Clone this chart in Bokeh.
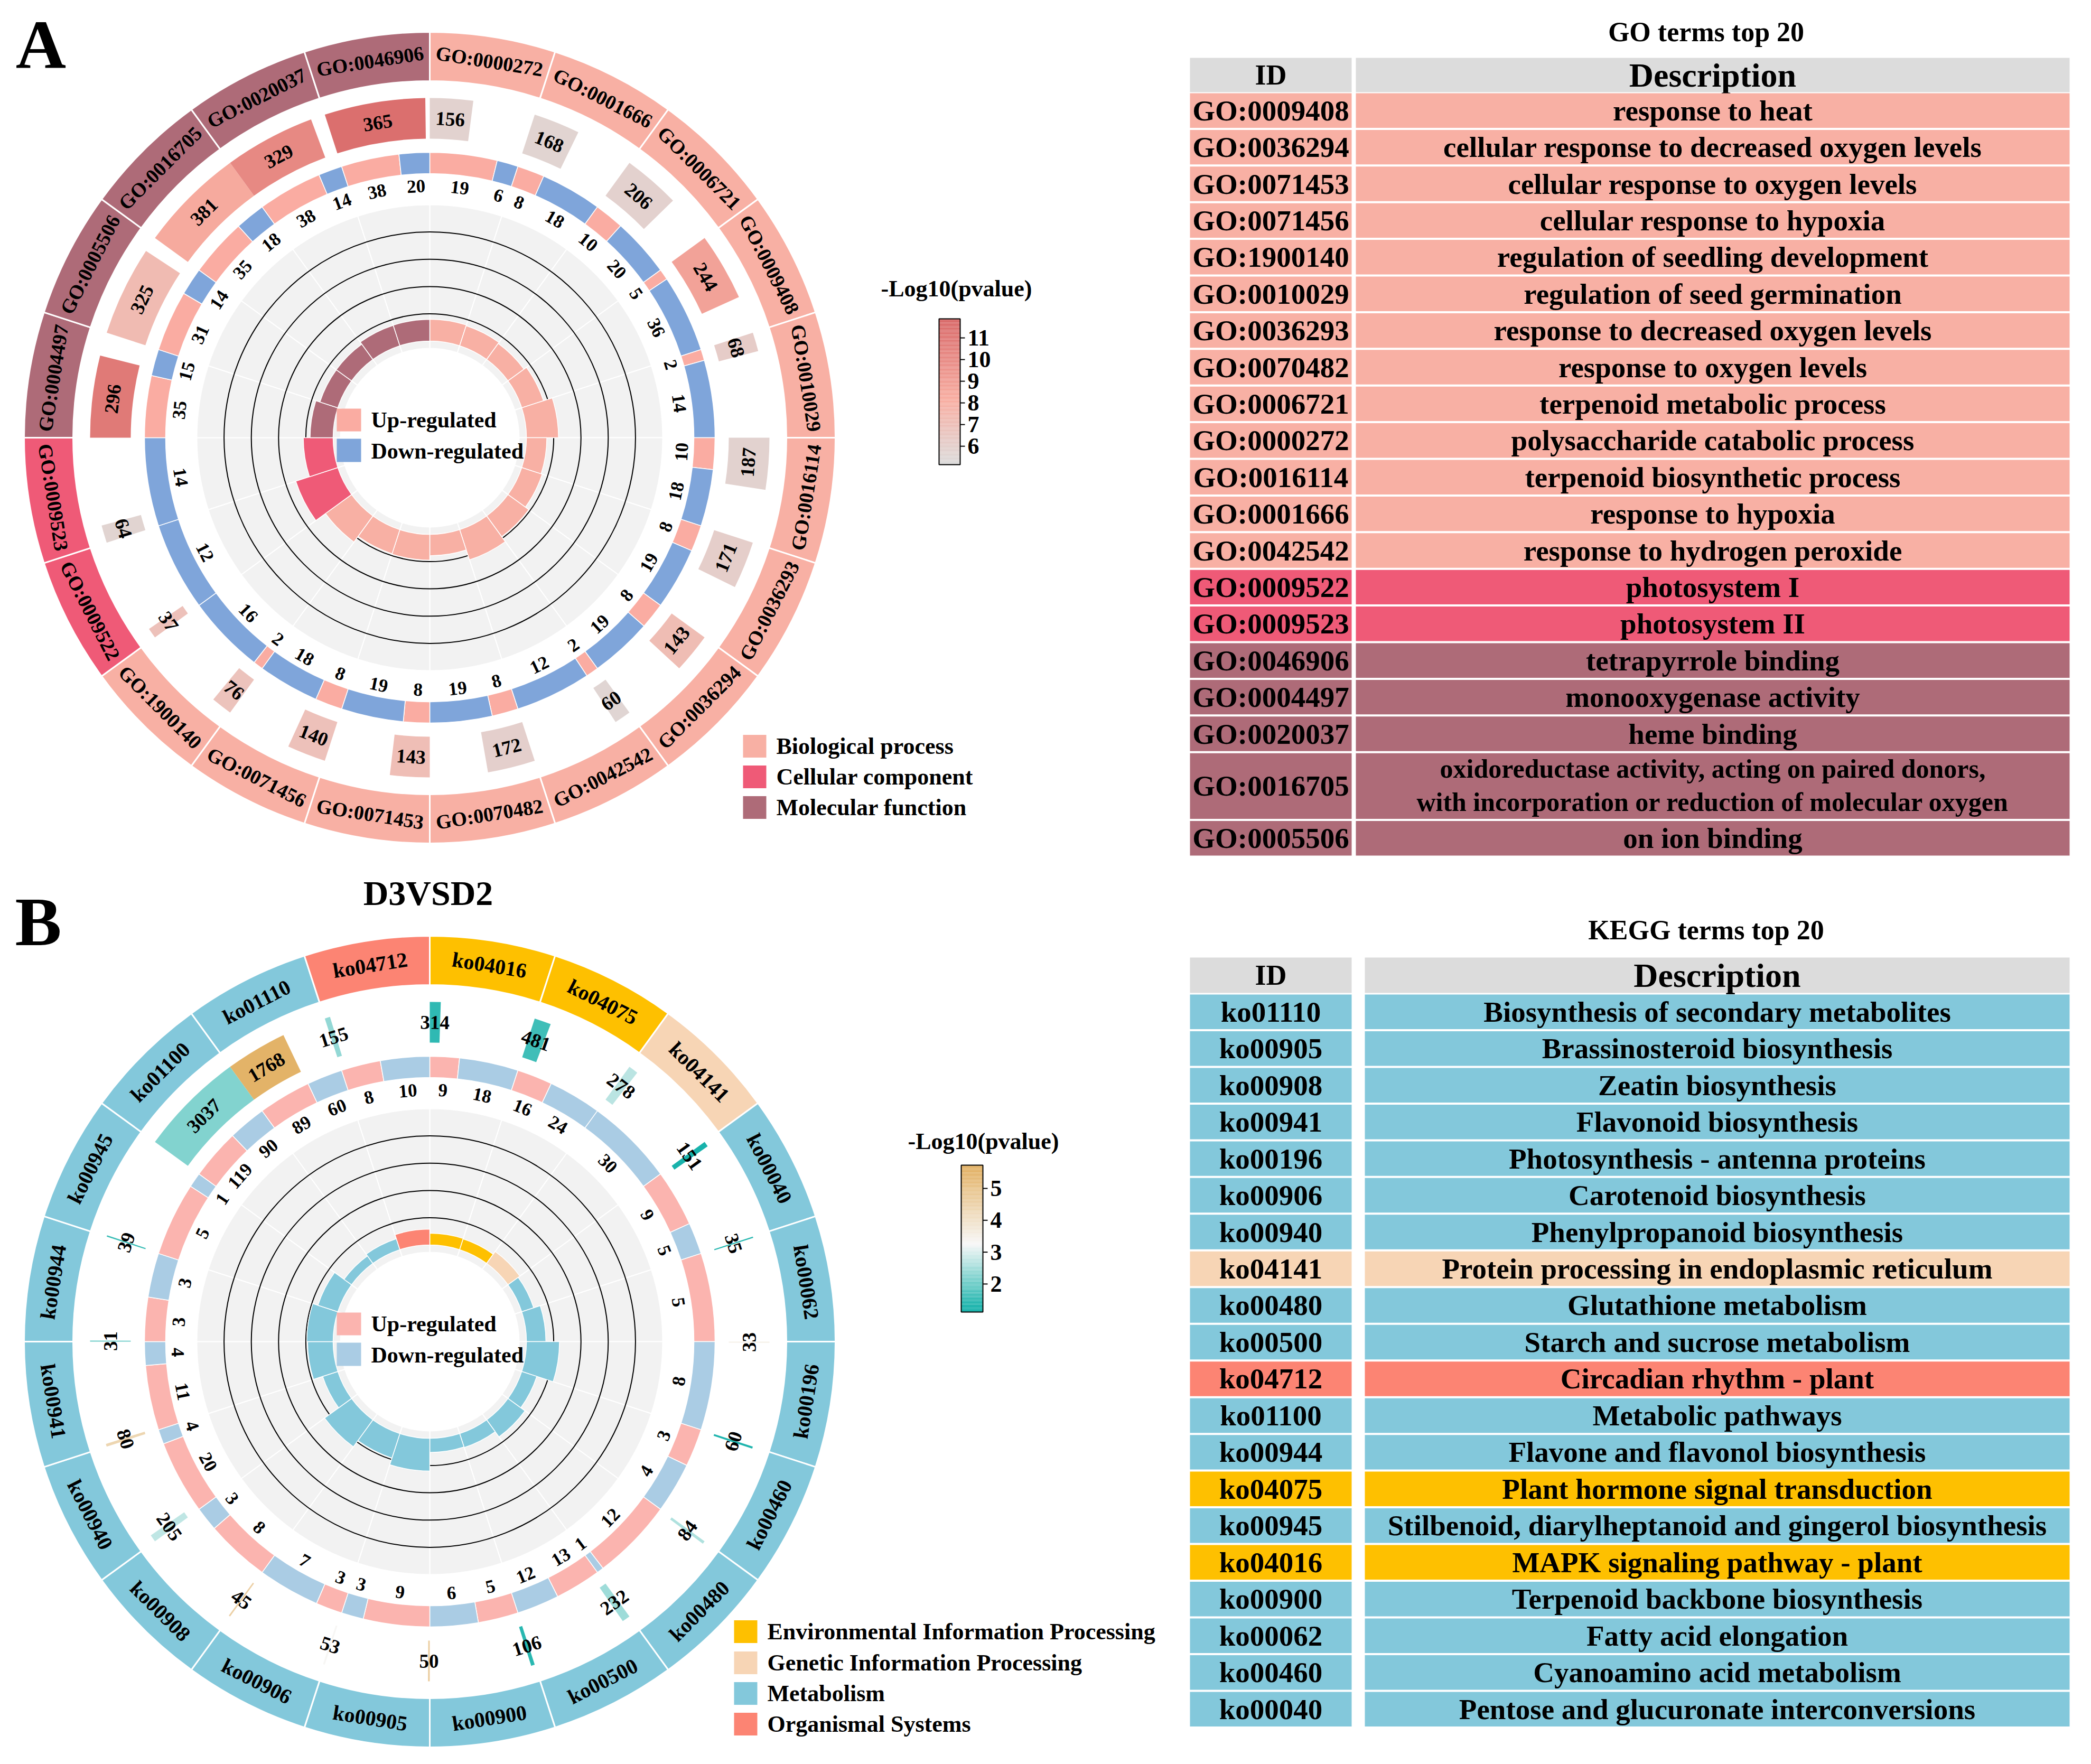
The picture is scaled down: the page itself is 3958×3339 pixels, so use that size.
import numpy as np
from bokeh.plotting import figure
from bokeh.models import Range1d
from bokeh.embed import file_html
from bokeh.resources import INLINE
from bokeh.core.properties import value

# ================= DATA =================
# ---- Panel A: GO circle (clockwise from 12 o'clock) ----
go_ids = ["GO:0000272", "GO:0001666", "GO:0006721", "GO:0009408", "GO:0010029",
          "GO:0016114", "GO:0036293", "GO:0036294", "GO:0042542", "GO:0070482",
          "GO:0071453", "GO:0071456", "GO:1900140", "GO:0009522", "GO:0009523",
          "GO:0004497", "GO:0005506", "GO:0016705", "GO:0020037", "GO:0046906"]
go_ontology = ["BP"] * 13 + ["CC"] * 2 + ["MF"] * 5
go_bg_num = [156, 168, 206, 244, 68, 187, 171, 143, 60, 172, 143, 140, 76, 37, 64, 296, 325, 381, 329, 365]
go_up = [19, 8, 10, 5, 2, 10, 8, 8, 2, 8, 8, 8, 2, 0, 0, 35, 31, 35, 38, 38]
go_down = [6, 18, 20, 36, 14, 18, 19, 19, 12, 19, 19, 18, 16, 12, 14, 15, 14, 18, 14, 20]
go_logp = [5.8, 5.7, 5.9, 8.8, 6.2, 5.8, 6.1, 7.2, 5.6, 6.0, 7.1, 6.9, 6.8, 6.9, 5.7, 11.0, 7.3, 8.4, 10.2, 11.6]
go_cb_ticks = [6, 7, 8, 9, 10, 11]
go_cb_range = [5.15, 11.88]
go_cat_names = ["Biological process", "Cellular component", "Molecular function"]
go_cat_keys = ["BP", "CC", "MF"]

# ---- GO table ----
go_tab_ids = ["GO:0009408", "GO:0036294", "GO:0071453", "GO:0071456", "GO:1900140",
              "GO:0010029", "GO:0036293", "GO:0070482", "GO:0006721", "GO:0000272",
              "GO:0016114", "GO:0001666", "GO:0042542", "GO:0009522", "GO:0009523",
              "GO:0046906", "GO:0004497", "GO:0020037", "GO:0016705", "GO:0005506"]
go_tab_desc = ["response to heat", "cellular response to decreased oxygen levels",
               "cellular response to oxygen levels", "cellular response to hypoxia",
               "regulation of seedling development", "regulation of seed germination",
               "response to decreased oxygen levels", "response to oxygen levels",
               "terpenoid metabolic process", "polysaccharide catabolic process",
               "terpenoid biosynthetic process", "response to hypoxia",
               "response to hydrogen peroxide", "photosystem I", "photosystem II",
               "tetrapyrrole binding", "monooxygenase activity", "heme binding",
               "oxidoreductase activity, acting on paired donors,\nwith incorporation or reduction of molecular oxygen",
               "on ion binding"]
go_tab_cat = ["BP"] * 13 + ["CC"] * 2 + ["MF"] * 5

# ---- Panel B: KEGG circle (clockwise from 12 o'clock) ----
kegg_ids = ["ko04016", "ko04075", "ko04141", "ko00040", "ko00062", "ko00196", "ko00460",
            "ko00480", "ko00500", "ko00900", "ko00905", "ko00906", "ko00908", "ko00940",
            "ko00941", "ko00944", "ko00945", "ko01100", "ko01110", "ko04712"]
kegg_class = ["EIP", "EIP", "GIP"] + ["MET"] * 16 + ["OS"]
kegg_bg_num = [314, 481, 278, 151, 35, 33, 60, 84, 232, 106, 50, 53, 45, 205, 80, 31, 39, 3037, 1768, 155]
kegg_up = [9, 16, 0, 9, 5, 0, 3, 12, 13, 5, 9, 3, 8, 20, 11, 3, 5, 119, 89, 8]
kegg_down = [18, 24, 30, 5, 0, 8, 4, 1, 12, 6, 3, 7, 3, 4, 4, 3, 1, 90, 60, 10]
kegg_logp = [1.45, 1.6, 2.7, 1.25, 1.35, 3.5, 1.3, 2.6, 2.45, 1.4, 4.7, 3.3, 4.6, 2.75,
             4.4, 2.0, 1.55, 2.2, 5.6, 2.35]
kegg_cb_ticks = [2, 3, 4, 5]
kegg_cb_range = [1.12, 5.73]
kegg_cat_names = ["Environmental Information Processing", "Genetic Information Processing",
                  "Metabolism", "Organismal Systems"]
kegg_cat_keys = ["EIP", "GIP", "MET", "OS"]

# ---- KEGG table ----
kegg_tab_ids = ["ko01110", "ko00905", "ko00908", "ko00941", "ko00196", "ko00906", "ko00940",
                "ko04141", "ko00480", "ko00500", "ko04712", "ko01100", "ko00944", "ko04075",
                "ko00945", "ko04016", "ko00900", "ko00062", "ko00460", "ko00040"]
kegg_tab_desc = ["Biosynthesis of secondary metabolites", "Brassinosteroid biosynthesis",
                 "Zeatin biosynthesis", "Flavonoid biosynthesis", "Photosynthesis - antenna proteins",
                 "Carotenoid biosynthesis", "Phenylpropanoid biosynthesis",
                 "Protein processing in endoplasmic reticulum", "Glutathione metabolism",
                 "Starch and sucrose metabolism", "Circadian rhythm - plant", "Metabolic pathways",
                 "Flavone and flavonol biosynthesis", "Plant hormone signal transduction",
                 "Stilbenoid, diarylheptanoid and gingerol biosynthesis",
                 "MAPK signaling pathway - plant", "Terpenoid backbone biosynthesis",
                 "Fatty acid elongation", "Cyanoamino acid metabolism",
                 "Pentose and glucuronate interconversions"]
kegg_tab_cat = ["MET", "MET", "MET", "MET", "MET", "MET", "MET", "GIP", "MET", "MET", "OS",
                "MET", "MET", "EIP", "MET", "EIP", "MET", "MET", "MET", "MET"]

# ================= STYLE =================
FONT = value("Liberation Serif")
GO_COLORS = {"BP": "#F8B0A4", "CC": "#EF5A77", "MF": "#AE6B78"}
KEGG_COLORS = {"EIP": "#FEC000", "GIP": "#F7D5B5", "MET": "#83C8DB", "OS": "#FC8473"}
GO_STOPS = [(5.15, "#DCDCDC"), (8.1, "#F8AFA3"), (11.88, "#D96A6A")]
KEGG_STOPS = [(1.12, "#0AAEA6"), (3.25, "#F7F7F7"), (5.73, "#E2AF60")]
GO_UPDOWN = ("#FAACA2", "#7FA5DA")
KEGG_UPDOWN = ("#FBB4AF", "#AACCE4")

R_OUT = (675, 768)
R_T2 = (566, 643)
R_T3 = (500, 540)
R_BG = (169, 441)
BAR0, BARSCALE = 183, 258

W, H = 3940, 3320
YTOP = 8 + H


def Y(v):
    return YTOP - np.asarray(v, dtype=float)


def phi(theta):
    return np.deg2rad(90.0 - np.asarray(theta, dtype=float))


def tangent_rot(theta):
    th = np.asarray(theta, dtype=float) % 360
    ph = 90.0 - th
    upper = np.sin(np.deg2rad(ph)) >= -1e-9
    return np.deg2rad(np.where(upper, ph - 90.0, ph + 90.0))


def polar(cx, cy, r, theta):
    a = phi(theta)
    return cx + r * np.cos(a), cy + r * np.sin(a)


def hex2rgb(h):
    h = h.lstrip("#")
    return tuple(int(h[i:i + 2], 16) for i in (0, 2, 4))


def cmap(v, stops):
    vs = [s[0] for s in stops]
    cs = [hex2rgb(s[1]) for s in stops]
    v = min(max(v, vs[0]), vs[-1])
    for k in range(len(vs) - 1):
        if vs[k] <= v <= vs[k + 1]:
            f = (v - vs[k]) / (vs[k + 1] - vs[k])
            c = [round(cs[k][j] + (cs[k + 1][j] - cs[k][j]) * f) for j in range(3)]
            return "#%02x%02x%02x" % tuple(c)
    return stops[-1][1]


def txt(p, xs, ys, texts, size, angle=0.0, align="center", baseline="middle", color="black"):
    n = len(texts)
    if np.isscalar(angle):
        angle = [angle] * n
    p.text(x=list(np.asarray(xs, dtype=float)), y=list(np.asarray(ys, dtype=float)),
           text=list(texts), angle=list(angle), text_font=FONT, text_font_style="bold",
           text_font_size=value(f"{size}px"), text_align=align, text_baseline=baseline,
           text_color=color)


def draw_circos(p, cx, cy_ref, ids, cats, cat_colors, bg, up, down, logp, stops, updown, id_size):
    cy = float(Y(cy_ref))
    n = len(ids)
    step = 360.0 / n
    th0 = np.arange(n) * step
    th1 = th0 + step
    mid = th0 + step / 2

    # inner background track with grid circles and rich-factor bars
    p.annular_wedge(x=cx, y=cy, inner_radius=R_BG[0], outer_radius=R_BG[1],
                    start_angle=phi(th1), end_angle=phi(th0), fill_color="#F2F2F2",
                    line_color="white", line_width=2)
    grid_r = [BAR0 + BARSCALE * f for f in (0.2, 0.4, 0.6, 0.8)]
    p.circle(x=[cx] * 4, y=[cy] * 4, radius=grid_r, fill_color=None, line_color="black", line_width=2)
    up = np.asarray(up, dtype=float)
    down = np.asarray(down, dtype=float)
    bg = np.asarray(bg, dtype=float)
    tot = up + down
    rf = tot / bg
    p.annular_wedge(x=cx, y=cy, inner_radius=BAR0, outer_radius=list(BAR0 + BARSCALE * rf),
                    start_angle=phi(th1), end_angle=phi(th0),
                    fill_color=[cat_colors[c] for c in cats], line_color="white", line_width=1.5)

    # outer ID ring
    p.annular_wedge(x=cx, y=cy, inner_radius=R_OUT[0], outer_radius=R_OUT[1],
                    start_angle=phi(th1), end_angle=phi(th0),
                    fill_color=[cat_colors[c] for c in cats], line_color="white", line_width=3)
    lx, ly = polar(cx, cy, (R_OUT[0] + R_OUT[1]) / 2, mid)
    txt(p, lx, ly, ids, id_size, angle=list(tangent_rot(mid)))

    # track 2: background gene number, coloured by -log10(p)
    t_end = th0 + bg / bg.max() * step
    p.annular_wedge(x=cx, y=cy, inner_radius=R_T2[0], outer_radius=R_T2[1],
                    start_angle=phi(t_end), end_angle=phi(th0),
                    fill_color=[cmap(v, stops) for v in logp], line_color=None)
    m2 = (th0 + t_end) / 2
    lx, ly = polar(cx, cy, (R_T2[0] + R_T2[1]) / 2, m2)
    txt(p, lx, ly, [str(int(v)) for v in bg], 37, angle=list(tangent_rot(m2)))

    # track 3: up / down regulated proportions
    t_up = th0 + up / tot * step
    s_a, e_a, cols, lab_t, lab_s = [], [], [], [], []
    for i in range(n):
        if up[i] > 0:
            s_a.append(phi(t_up[i])); e_a.append(phi(th0[i])); cols.append(updown[0])
            lab_t.append((th0[i] + t_up[i]) / 2); lab_s.append(str(int(up[i])))
        if down[i] > 0:
            s_a.append(phi(th1[i])); e_a.append(phi(t_up[i])); cols.append(updown[1])
            lab_t.append((t_up[i] + th1[i]) / 2); lab_s.append(str(int(down[i])))
    p.annular_wedge(x=cx, y=cy, inner_radius=R_T3[0], outer_radius=R_T3[1],
                    start_angle=s_a, end_angle=e_a, fill_color=cols,
                    line_color="white", line_width=1.5)
    lab_t = np.array(lab_t)
    lx, ly = polar(cx, cy, 477, lab_t)
    txt(p, lx, ly, lab_s, 35, angle=list(tangent_rot(lab_t)))

    # centre legend
    p.quad(left=[cx - 176] * 2, right=[cx - 130] * 2,
           top=[cy + 55, cy - 2], bottom=[cy + 12, cy - 46],
           fill_color=list(updown), line_color=None)
    txt(p, [cx - 111] * 2, [cy + 34, cy - 25], ["Up-regulated", "Down-regulated"], 42, align="left")


def draw_colorbar(p, x0, x1, y_top, y_bot, vrange, stops, ticks, title, title_x, title_y):
    nsl = 120
    vals = np.linspace(vrange[0], vrange[1], nsl + 1)
    ys = y_bot - (vals - vrange[0]) / (vrange[1] - vrange[0]) * (y_bot - y_top)
    p.quad(left=[x0] * nsl, right=[x1] * nsl, bottom=list(Y(ys[:-1])), top=list(Y(ys[1:])),
           fill_color=[cmap((vals[k] + vals[k + 1]) / 2, stops) for k in range(nsl)], line_color=None)
    p.quad(left=[x0], right=[x1], top=[float(Y(y_top))], bottom=[float(Y(y_bot))],
           fill_color=None, line_color="black", line_width=2)
    ty = y_bot - (np.asarray(ticks, dtype=float) - vrange[0]) / (vrange[1] - vrange[0]) * (y_bot - y_top)
    p.segment(x0=[x1] * len(ticks), x1=[x1 + 9] * len(ticks), y0=list(Y(ty)), y1=list(Y(ty)),
              line_color="black", line_width=2)
    txt(p, [x1 + 14] * len(ticks), Y(ty), [str(t) for t in ticks], 44, align="left")
    txt(p, [title_x], Y([title_y]), [title], 44)


def draw_cat_legend(p, x0, yc_list, names, colors):
    p.quad(left=[x0] * len(names), right=[x0 + 44] * len(names),
           top=list(Y(np.array(yc_list) - 21.5)), bottom=list(Y(np.array(yc_list) + 21.5)),
           fill_color=colors, line_color=None)
    txt(p, [x0 + 63] * len(names), Y(yc_list), names, 44, align="left")


def draw_table(p, title, title_y, hdr, id_x, d_x, row0, pitch, ids, descs, cats, colors, spans):
    txt(p, [3237], Y([title_y]), [title], 52)
    p.quad(left=[id_x[0], d_x[0]], right=[id_x[1], d_x[1]], top=list(Y([hdr[0]] * 2)),
           bottom=list(Y([hdr[1]] * 2)), fill_color="#DCDCDC", line_color=None)
    hy = (hdr[0] + hdr[1]) / 2
    txt(p, [(id_x[0] + id_x[1]) / 2], Y([hy]), ["ID"], 54)
    txt(p, [(d_x[0] + d_x[1]) / 2], Y([hy]), ["Description"], 64)
    tops, t = [], row0
    for s in spans:
        tops.append(t)
        t += s * pitch
    tops = np.array(tops)
    hts = np.array(spans) * pitch - 4
    cols = [colors[c] for c in cats]
    n = len(ids)
    p.quad(left=[id_x[0]] * n + [d_x[0]] * n, right=[id_x[1]] * n + [d_x[1]] * n,
           top=list(Y(np.concatenate([tops, tops]))), bottom=list(Y(np.concatenate([tops + hts, tops + hts]))),
           fill_color=cols + cols, line_color=None)
    centers = tops + hts / 2
    txt(p, [(id_x[0] + id_x[1]) / 2] * n, Y(centers), ids, 55)
    dx = (d_x[0] + d_x[1]) / 2
    for i, d in enumerate(descs):
        lines = d.split("\n")
        if len(lines) == 1:
            txt(p, [dx], Y([centers[i]]), [d], 55)
        else:
            txt(p, [dx, dx], Y([centers[i] - 33, centers[i] + 30]), lines, 50)


# ================= FIGURE =================
p = figure(width=W, height=H, x_range=Range1d(8, 8 + W), y_range=Range1d(0, H),
           output_backend="svg", toolbar_location=None, min_border=0,
           x_axis_type=None, y_axis_type=None)
p.grid.visible = False
p.outline_line_color = None
p.background_fill_color = "white"
p.border_fill_color = "white"

# Panel labels and title
txt(p, [85], Y([92]), ["A"], 132)
txt(p, [80], Y([1752]), ["B"], 132)
txt(p, [818], Y([1698]), ["D3VSD2"], 66)

# Panel A
draw_circos(p, 821, 836, go_ids, go_ontology, GO_COLORS, go_bg_num, go_up, go_down,
            go_logp, GO_STOPS, GO_UPDOWN, 38)
draw_colorbar(p, 1785, 1825, 611, 887, go_cb_range, GO_STOPS, go_cb_ticks,
              "-Log10(pvalue)", 1818, 554)
draw_cat_legend(p, 1414, [1420, 1478, 1536], go_cat_names, [GO_COLORS[k] for k in go_cat_keys])
draw_table(p, "GO terms top 20", 68, (117, 182), (2260, 2566), (2574, 3925), 184, 69.4,
           go_tab_ids, go_tab_desc, go_tab_cat, GO_COLORS, [1] * 18 + [1.85, 1])

# Panel B
draw_circos(p, 821, 2547, kegg_ids, kegg_class, KEGG_COLORS, kegg_bg_num, kegg_up, kegg_down,
            kegg_logp, KEGG_STOPS, KEGG_UPDOWN, 40)
draw_colorbar(p, 1827, 1868, 2213, 2491, kegg_cb_range, KEGG_STOPS, kegg_cb_ticks,
              "-Log10(pvalue)", 1869, 2168)
draw_cat_legend(p, 1397, [3096, 3155, 3213, 3271], kegg_cat_names, [KEGG_COLORS[k] for k in kegg_cat_keys])
draw_table(p, "KEGG terms top 20", 1768, (1820, 1887), (2260, 2566), (2591, 3925), 1890, 69.47,
           kegg_tab_ids, kegg_tab_desc, kegg_tab_cat, KEGG_COLORS, [1] * 20)

open("out.html", "w").write(file_html(p, INLINE))
